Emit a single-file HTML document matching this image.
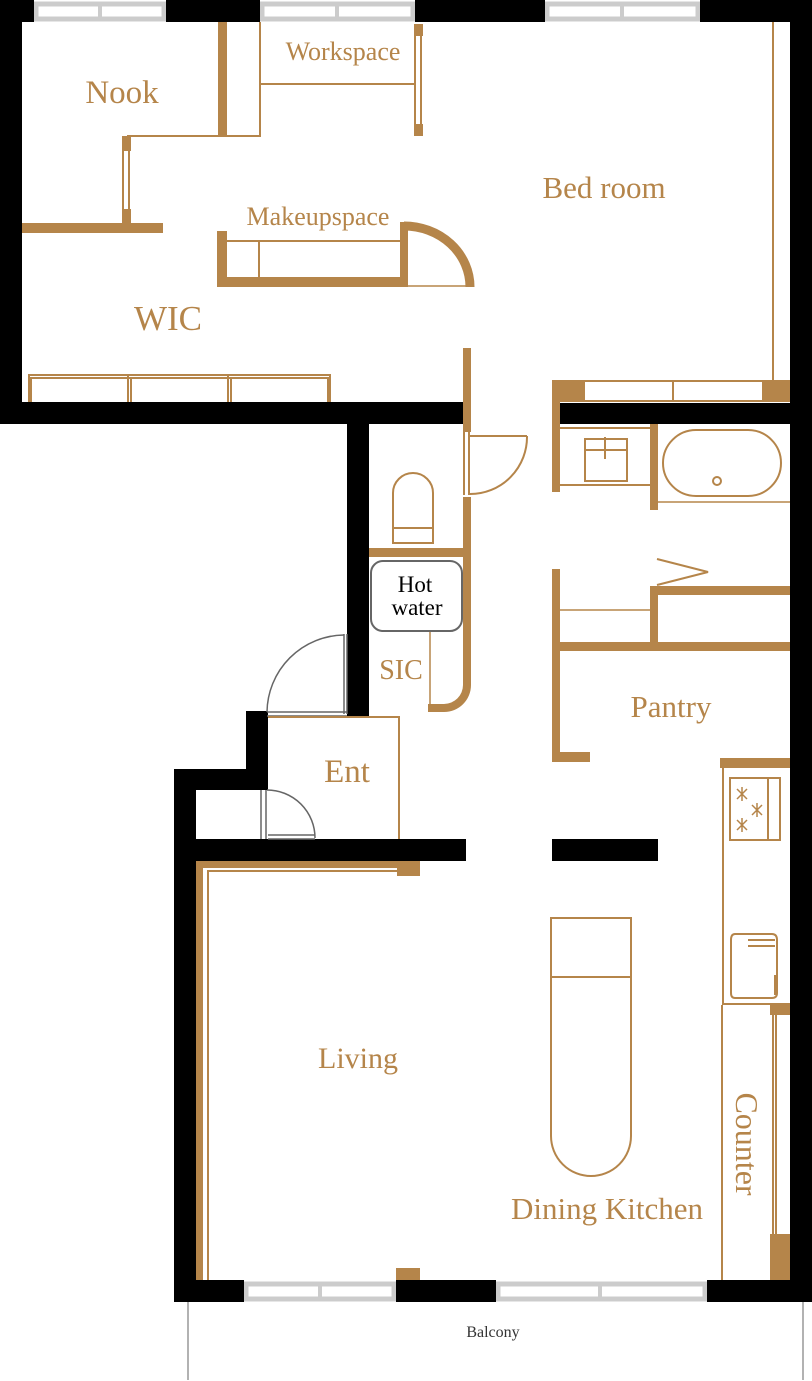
<!DOCTYPE html>
<html><head><meta charset="utf-8"><style>
html,body{margin:0;padding:0;background:#fff}
svg{display:block}
text{font-family:"Liberation Serif",serif}
.b{fill:#b5854a}
.l{fill:none;stroke:#b5854a;stroke-width:2}
.t{fill:#b5854a;text-anchor:middle}
.w{fill:#fff;stroke:#ccc;stroke-width:5}
</style></head><body>
<svg width="812" height="1381" viewBox="0 0 812 1381" xmlns="http://www.w3.org/2000/svg">
<!-- windows -->
<rect class="w" x="36" y="4" width="128" height="15"/><line x1="100" y1="2" x2="100" y2="21" stroke="#ccc" stroke-width="4"/>
<rect class="w" x="262" y="4" width="151" height="15"/><line x1="337" y1="2" x2="337" y2="21" stroke="#ccc" stroke-width="4"/>
<rect class="w" x="547" y="4" width="151" height="15"/><line x1="622" y1="2" x2="622" y2="21" stroke="#ccc" stroke-width="4"/>
<rect class="w" x="246" y="1284" width="148" height="15"/><line x1="320" y1="1282" x2="320" y2="1301" stroke="#ccc" stroke-width="4"/>
<rect class="w" x="498" y="1284" width="207" height="15"/><line x1="600" y1="1282" x2="600" y2="1301" stroke="#ccc" stroke-width="4"/>
<!-- black walls -->
<g fill="#000">
<rect x="0" y="0" width="34" height="22"/><rect x="166" y="0" width="94" height="22"/><rect x="415" y="0" width="130" height="22"/><rect x="700" y="0" width="112" height="22"/>
<rect x="0" y="0" width="22" height="424"/>
<rect x="0" y="402" width="471" height="22"/>
<rect x="790" y="0" width="22" height="1302"/>
<rect x="556" y="403" width="234" height="21"/>
<rect x="347" y="424" width="22" height="293"/>
<rect x="246" y="711" width="22" height="79"/>
<rect x="174" y="769" width="94" height="21"/>
<rect x="174" y="769" width="22" height="533"/>
<rect x="174" y="839" width="292" height="22"/>
<rect x="552" y="839" width="106" height="22"/>
<rect x="174" y="1280" width="70" height="22"/><rect x="396" y="1280" width="100" height="22"/><rect x="707" y="1280" width="105" height="22"/>
</g>
<line x1="188" y1="1302" x2="188" y2="1380" stroke="#999" stroke-width="1.5"/>
<line x1="803" y1="1302" x2="803" y2="1380" stroke="#999" stroke-width="1.5"/>
<text x="493" y="1337" font-size="16" fill="#333" text-anchor="middle">Balcony</text>
<!-- top rooms -->
<rect class="b" x="218" y="22" width="9" height="114"/>
<path class="l" d="M260 22V84H414M260 84V136H127"/>
<rect class="b" x="122" y="136" width="9" height="15"/><rect class="b" x="122" y="209" width="9" height="19"/>
<path class="l" d="M123 151V209M129 151V209" stroke-width="1.5"/>
<rect class="b" x="22" y="223" width="141" height="10"/>
<rect class="b" x="414" y="24" width="9" height="12"/><rect class="b" x="414" y="124" width="9" height="12"/>
<path class="l" d="M415 36V124M421 36V124" stroke-width="1.5"/>
<path class="b" d="M217 231h10v46h173v-55h8v65h-191z"/>
<path class="l" d="M227 241H400M259 241V277"/>
<path d="M404 226A66 61 0 0 1 470 287" fill="none" stroke="#b5854a" stroke-width="9"/>
<line x1="405" y1="286" x2="470" y2="286" stroke="#b5854a" stroke-width="1.5"/>
<path class="l" d="M29 402V375H330V402M31 377V402M128 375V402M131 377V402M228 375V402M231 377V402M328 377V402M29 378H330" stroke-width="1.5"/>
<line x1="773" y1="22" x2="773" y2="380" stroke="#b5854a" stroke-width="2"/>
<!-- bath/toilet -->
<rect class="b" x="463" y="348" width="8" height="84"/>
<path class="l" d="M464 432V495M469 432V495M470 436H527M527 436A57 57 0 0 1 470 494" stroke-width="1.5"/>
<path class="b" d="M463 497h8v188a27 27 0 0 1 -27 27h-16v-8h16a19 19 0 0 0 19 -19z"/>
<line x1="430" y1="632" x2="430" y2="710" stroke="#b5854a" stroke-width="1.5"/>
<path class="l" d="M393 543V493A20 20 0 0 1 433 493V543ZM393 528H433"/>
<rect class="b" x="369" y="548" width="94" height="9"/>
<rect x="371" y="561" width="91" height="70" rx="12" fill="#fff" stroke="#666" stroke-width="2"/>
<text x="415" y="592" font-size="23" text-anchor="middle" fill="#000">Hot</text>
<text x="417" y="615" font-size="23" text-anchor="middle" fill="#000">water</text>
<text class="t" x="401" y="679" font-size="28">SIC</text>
<!-- entrance doors -->
<g fill="none" stroke="#666" stroke-width="1.5">
<path d="M344 634V714M347 634V714M267 712H347M267 716H347"/>
<path d="M344 635A78 78 0 0 0 267 712"/>
<path d="M261 790V839M266 790V839M268 835H315M268 839H315"/>
<path d="M267 790A48 48 0 0 1 315 838"/>
</g>
<path class="l" d="M268 717H399V839" stroke-width="1.5"/>
<text class="t" x="347" y="782" font-size="33">Ent</text>
<!-- right bath -->
<rect class="b" x="552" y="380" width="33" height="22"/><rect class="b" x="762" y="380" width="28" height="22"/>
<path class="l" d="M585 381H762M585 401H762M673 381V401" stroke-width="1.5"/>
<rect class="b" x="552" y="402" width="8" height="90"/>
<path class="l" d="M560 428H652M560 485H652M585 439H627V481H585ZM585 450H627M605 437V459" stroke-width="1.5"/>
<rect class="b" x="650" y="424" width="8" height="86"/>
<rect x="663" y="430" width="118" height="66" rx="33" class="l"/>
<circle cx="717" cy="481" r="4" class="l"/>
<line x1="658" y1="502" x2="790" y2="502" stroke="#b5854a" stroke-width="1.5"/>
<!-- pantry -->
<rect class="b" x="552" y="569" width="8" height="193"/><rect class="b" x="552" y="752" width="38" height="10"/>
<rect class="b" x="560" y="642" width="230" height="9"/>
<line x1="560" y1="610" x2="650" y2="610" stroke="#b5854a" stroke-width="1.5"/>
<rect class="b" x="650" y="586" width="8" height="65"/><rect class="b" x="650" y="586" width="140" height="9"/>
<path class="l" d="M657 559L708 572L657 585" stroke-width="1.5"/>
<text class="t" x="671" y="717" font-size="31">Pantry</text>
<!-- kitchen -->
<rect class="b" x="720" y="758" width="70" height="10"/>
<path class="l" d="M723 768V1005M723 1004H790M730 778H780V840H730ZM768 778V840" stroke-width="1.5"/>
<g stroke="#b5854a" stroke-width="1.5"><path d="M737 789l10 10M747 789l-10 10M742 787v14M752 805l10 10M762 805l-10 10M757 803v14M737 820l10 10M747 820l-10 10M742 818v14"/></g>
<path class="l" d="M735 934H772Q777 934 777 940V993Q777 998 772 998H735Q731 998 731 993V940Q731 934 735 934ZM748 940H775M748 946H775M775 975V995" stroke-width="1.5"/>
<path class="l" d="M722 1005V1280M773 1005V1280M776 1005V1234" stroke-width="1.5"/>
<rect class="b" x="770" y="1003" width="20" height="12"/><rect class="b" x="770" y="1234" width="20" height="46"/>
<text class="t" font-size="32" transform="translate(736 1144) rotate(90)">Counter</text>
<path class="l" d="M551 918H631V977H551ZM551 977V1136A40 40 0 0 0 631 1136V977"/>
<text class="t" x="607" y="1219" font-size="31">Dining Kitchen</text>
<!-- living -->
<rect class="b" x="196" y="861" width="204" height="7"/><rect class="b" x="196" y="861" width="7" height="419"/>
<path class="l" d="M208 1280V871H398" stroke-width="1.5"/>
<rect class="b" x="397" y="861" width="23" height="15"/>
<rect class="b" x="396" y="1268" width="24" height="12"/>
<text class="t" x="358" y="1068" font-size="30">Living</text>
<!-- labels top -->
<text class="t" x="122" y="103" font-size="33">Nook</text>
<text class="t" x="343" y="60" font-size="26">Workspace</text>
<text class="t" x="604" y="198" font-size="31">Bed room</text>
<text class="t" x="318" y="225" font-size="26">Makeupspace</text>
<text class="t" x="168" y="330" font-size="35">WIC</text>
</svg>
</body></html>
